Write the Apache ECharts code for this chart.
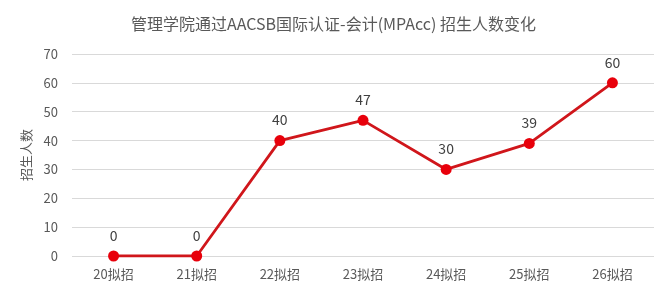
<!DOCTYPE html>
<html><head><meta charset="utf-8">
<script src="https://cdn.jsdelivr.net/npm/echarts@6/dist/echarts.min.js"></script>
<style>html,body{margin:0;padding:0;background:#fff}#c{width:667px;height:293px}</style>
</head><body><div id="c"></div>
<script>
const categories = ['20拟招','21拟招','22拟招','23拟招','24拟招','25拟招','26拟招'];
const enrollment = [0, 0, 40, 47, 30, 39, 60];
const yTicks = {min: 0, max: 70, interval: 10};
const titleText = '管理学院通过AACSB国际认证-会计(MPAcc) 招生人数变化';
const yName = '招生人数';

const font = "'Microsoft YaHei','Noto Sans CJK SC',sans-serif";
const chart = echarts.init(document.getElementById('c'), null, {renderer:'canvas'});
chart.setOption({
  animation: false,
  title: {text: titleText, left: 'center', top: 11,
    textStyle: {fontFamily: font, fontSize: 16, fontWeight: 'normal', color: '#595959'}},
  grid: {left: 72, right: 13, top: 54, bottom: 37},
  xAxis: {type: 'category', data: categories, boundaryGap: true,
    axisLine: {show: false}, axisTick: {show: false},
    axisLabel: {color: '#595959', fontSize: 13, fontFamily: font, margin: 12}},
  yAxis: {type: 'value', min: yTicks.min, max: yTicks.max, interval: yTicks.interval,
    name: yName, nameLocation: 'middle', nameGap: 39, nameRotate: 90, nameMoveOverlap: false,
    nameTextStyle: {color: '#595959', fontSize: 13, fontFamily: font},
    axisLine: {show: false}, axisTick: {show: false},
    axisLabel: {color: '#595959', fontSize: 13, fontFamily: font, margin: 14},
    splitLine: {lineStyle: {color: '#d9d9d9', width: 1}}},
  series: [{type: 'line', data: enrollment, symbol: 'circle', symbolSize: 11,
    lineStyle: {color: '#d0161b', width: 2.8},
    itemStyle: {color: '#e8000b'},
    label: {show: true, position: 'top', distance: 8, color: '#404040', fontSize: 14, fontFamily: font}}]
});
</script></body></html>
